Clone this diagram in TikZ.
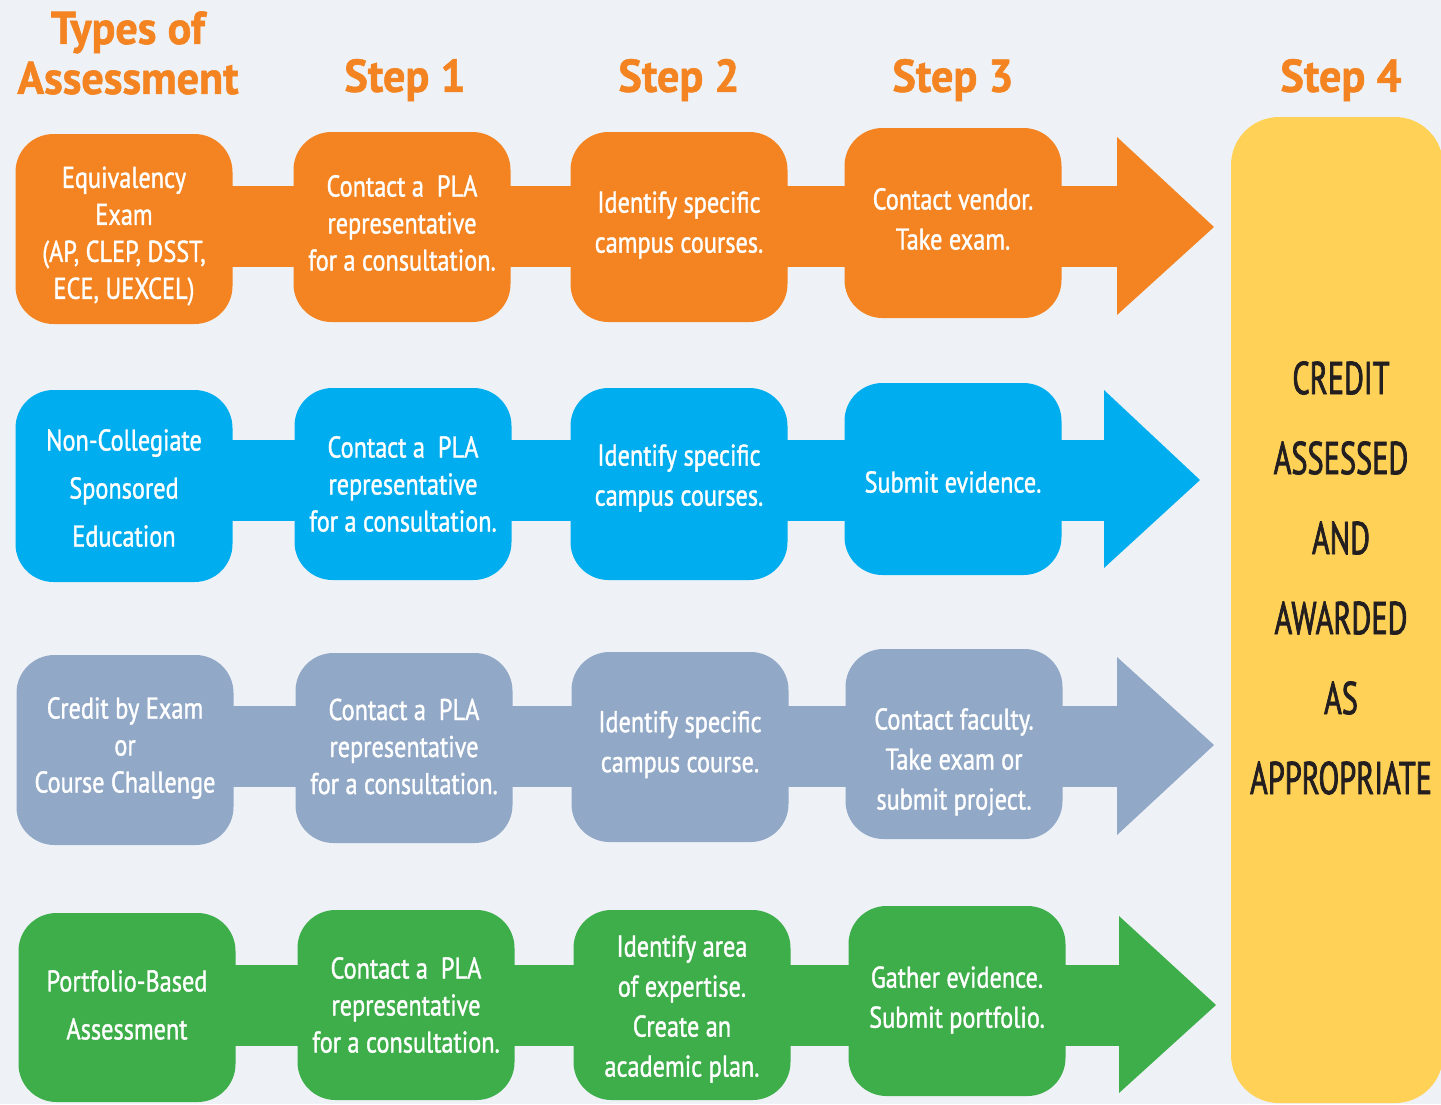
\documentclass[tikz,border=0pt]{standalone}
\usepackage{fontspec}
\setmainfont{PT Sans}[FakeStretch=0.81, FakeBold=1.2]
\newfontfamily\headfont{PT Sans Bold}[FakeStretch=0.96, FakeBold=1.2]
\newfontfamily\yelfont{PT Sans}[FakeStretch=0.66, FakeBold=1.6]
\usetikzlibrary{backgrounds,calc}
\definecolor{bg}{HTML}{EEF2F7}
\definecolor{cor}{HTML}{F38421}
\definecolor{cbl}{HTML}{00AEEF}
\definecolor{cgr}{HTML}{91A8C6}
\definecolor{cgn}{HTML}{3DAE49}
\definecolor{cye}{HTML}{FFD257}
\definecolor{ctx}{HTML}{231F20}
\begin{document}
\begin{tikzpicture}[x=1pt,y=-1pt,
  box/.style={rounded corners=38pt, minimum width=217pt, minimum height=190pt, inner sep=0pt},
  txt/.style={text=white, align=center, inner sep=0pt, font=\fontsize{30}{37}\selectfont},
  wide/.style={font=\fontsize{30}{40}\selectfont},
  airy/.style={font=\fontsize{30}{48}\selectfont},
  head/.style={text=cor, font=\headfont\fontsize{46}{50}\selectfont, align=center},
  band/.style={line width=81pt},
  ]
\useasboundingbox (0,0) rectangle (1441,1104);

% headers
\node[head] (hT) at (128,53) {Types of\\Assessment};
\node[head] (hS1) at (405,80) {Step 1};
\node[head] (hS2) at (679,80) {Step 2};
\node[head] (hS3) at (953,80) {Step 3};
\node[head] (hS4) at (1341,80) {Step 4};

% step 4 box
\node[fill=cye, rounded corners=48pt, minimum width=212pt, minimum height=986pt, inner sep=0pt] (s4) at (1337,610) {};
\node[text=ctx, align=center, font=\yelfont\fontsize{46}{80}\selectfont] (s4t) at (1341,578)
  {CREDIT\\ASSESSED\\AND\\AWARDED\\AS\\APPROPRIATE};

% coordinates for arrow heads
\coordinate (h1) at (1117,226); \coordinate (h1a) at (1117,137); \coordinate (h1b) at (1117,315); \coordinate (t1) at (1214,227);
\coordinate (h2) at (1104,480); \coordinate (h2a) at (1104,390); \coordinate (h2b) at (1104,568); \coordinate (t2) at (1200,480);
\coordinate (h3) at (1117,746); \coordinate (h3a) at (1117,657); \coordinate (h3b) at (1117,835); \coordinate (t3) at (1214,745);
\coordinate (h4) at (1119,1005); \coordinate (h4a) at (1119,916); \coordinate (h4b) at (1119,1093); \coordinate (t4) at (1216,1005);

% row 1
\node[box, fill=cor, label={[txt, yshift=-7pt]center:{Equivalency\\Exam\\(AP, CLEP, DSST,\\ECE, UEXCEL)}}] (a1) at (124,229) {};
\node[box, fill=cor, label={[txt, yshift=4pt]center:{Contact a~~PLA\\representative\\for a consultation.}}] (a2) at (402,227) {};
\node[box, fill=cor, label={[txt, wide, yshift=2pt]center:{Identify specific\\campus courses.}}] (a3) at (679,227) {};
\node[box, fill=cor, label={[txt, wide, yshift=4pt]center:{Contact vendor.\\Take exam.}}] (a4) at (953,223) {};
% row 2
\node[box, fill=cbl, minimum height=192pt, label={[txt, airy, yshift=-2pt]center:{Non-Collegiate\\Sponsored\\Education}}] (b1) at (124,486) {};
\node[box, fill=cbl, minimum height=192pt, label={[txt]center:{Contact a~~PLA\\representative\\for a consultation.}}] (b2) at (403,484) {};
\node[box, fill=cbl, minimum height=192pt, label={[txt, wide, yshift=6pt]center:{Identify specific\\campus courses.}}] (b3) at (679,484) {};
\node[box, fill=cbl, minimum height=192pt, label={[txt, wide, yshift=-3pt]center:{Submit evidence.}}] (b4) at (953,479) {};
% row 3
\node[box, fill=cgr, label={[txt, yshift=2pt]center:{Credit by Exam\\or\\Course Challenge}}] (c1) at (125,750) {};
\node[box, fill=cgr, label={[txt, yshift=1.5pt]center:{Contact a~~PLA\\representative\\for a consultation.}}] (c2) at (404,748) {};
\node[box, fill=cgr, label={[txt, wide, yshift=2.5pt]center:{Identify specific\\campus course.}}] (c3) at (680,747) {};
\node[box, fill=cgr, label={[txt, wide, yshift=-18pt]center:{Contact faculty.\\Take exam or\\submit project.}}] (c4) at (954,744) {};
% row 4
\node[box, fill=cgn, minimum height=189pt, label={[txt, airy, yshift=2.5pt]center:{Portfolio-Based\\Assessment}}] (d1) at (127,1007.5) {};
\node[box, fill=cgn, label={[txt]center:{Contact a~~PLA\\representative\\for a consultation.}}] (d2) at (406,1005) {};
\node[box, fill=cgn, label={[txt, wide, yshift=-4pt]center:{Identify area\\of expertise.\\Create an\\academic plan.}}] (d3) at (682,1005) {};
\node[box, fill=cgn, label={[txt, wide, yshift=1pt]center:{Gather evidence.\\Submit portfolio.}}] (d4) at (957,1001) {};

% bands and arrow heads
\begin{scope}[on background layer]
\fill[bg] (0,0) rectangle (1441,1104);
\draw[band, cor] (a1 |- h1) -- (h1);
\draw[band, cbl] (b1 |- h2) -- (h2);
\draw[band, cgr] (c1 |- h3) -- (h3);
\draw[band, cgn] (d1 |- h4) -- (h4);
\end{scope}
\fill[cor] (h1a) -- (t1) -- (h1b) -- cycle;
\fill[cbl] (h2a) -- (t2) -- (h2b) -- cycle;
\fill[cgr] (h3a) -- (t3) -- (h3b) -- cycle;
\fill[cgn] (h4a) -- (t4) -- (h4b) -- cycle;
\end{tikzpicture}
\end{document}
